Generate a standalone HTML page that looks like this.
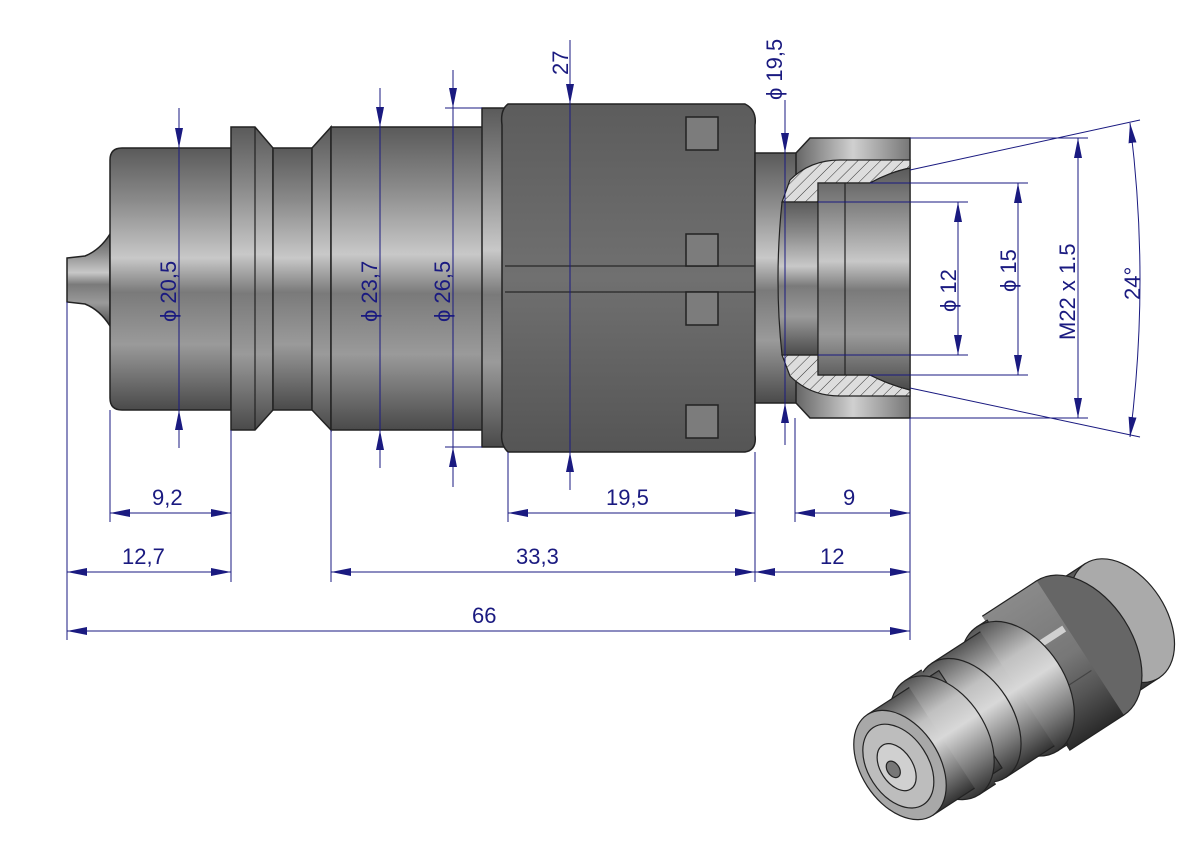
<!DOCTYPE html>
<html><head><meta charset="utf-8"><style>
html,body{margin:0;padding:0;background:#fff;}
svg{display:block}
text{font-family:"Liberation Sans",Arial,sans-serif;fill:#1a1a80;font-size:22px}
</style></head><body>
<svg width="1191" height="842" viewBox="0 0 1191 842" xmlns="http://www.w3.org/2000/svg">
<defs>
<linearGradient id="met" x1="0" y1="0" x2="0" y2="1">
<stop offset="0" stop-color="#5a5a5a"/><stop offset="0.2" stop-color="#8a8a8a"/><stop offset="0.42" stop-color="#c8c8c8"/><stop offset="0.55" stop-color="#7a7a7a"/><stop offset="0.75" stop-color="#9a9a9a"/><stop offset="1" stop-color="#4a4a4a"/>
</linearGradient>
<linearGradient id="met3" x1="0" y1="0" x2="0" y2="1">
<stop offset="0" stop-color="#555"/><stop offset="0.3" stop-color="#c0c0c0"/><stop offset="0.5" stop-color="#d8d8d8"/><stop offset="0.8" stop-color="#777"/><stop offset="1" stop-color="#333"/>
</linearGradient>
<linearGradient id="metH" x1="0" y1="0" x2="1" y2="0">
<stop offset="0" stop-color="#666"/><stop offset="0.5" stop-color="#d0d0d0"/><stop offset="1" stop-color="#777"/>
</linearGradient>
<linearGradient id="nut" x1="0" y1="0" x2="0" y2="1">
<stop offset="0" stop-color="#5c5c5c"/><stop offset="0.5" stop-color="#707070"/><stop offset="1" stop-color="#555"/>
</linearGradient>
<linearGradient id="nut3" x1="0" y1="0" x2="0" y2="1">
<stop offset="0" stop-color="#8a8a8a"/><stop offset="0.5" stop-color="#777"/><stop offset="0.75" stop-color="#555"/><stop offset="1" stop-color="#2a2a2a"/>
</linearGradient>
<pattern id="hatch" width="8" height="8" patternUnits="userSpaceOnUse" patternTransform="rotate(45)">
<rect width="8" height="8" fill="#ddd"/><line x1="0" y1="0" x2="0" y2="8" stroke="#333" stroke-width="1"/>
</pattern>
<marker id="a" viewBox="0 0 20 8" refX="20" refY="4" markerWidth="20" markerHeight="8" markerUnits="userSpaceOnUse" orient="auto-start-reverse">
<path d="M0,0 L20,4 L0,8 z" fill="#1a1a80"/></marker>
</defs>

<path d="M67,258 L85,256 Q100,250 110,234 L110,326 Q100,310 85,304 L67,302 z" fill="url(#met)" stroke="#222" stroke-width="1.5"/>
<path d="M122,148 L231,148 L231,410 L122,410 Q110,410 110,398 L110,160 Q110,148 122,148 z" fill="url(#met)" stroke="#222" stroke-width="1.5"/>
<path d="M231,127 L255,127 L273,148 L273,410 L255,430 L231,430 z" fill="url(#met)" stroke="#222" stroke-width="1.5"/>
<line x1="255" y1="127" x2="255" y2="430" stroke="#222" stroke-width="1.2"/>
<rect x="273" y="148" width="39" height="262" fill="url(#met)" stroke="#222" stroke-width="1.5"/>
<path d="M312,148 L331,127 L331,430 L312,410 z" fill="url(#met)" stroke="#222" stroke-width="1.5"/>
<rect x="331" y="127" width="152" height="303" fill="url(#met)" stroke="#222" stroke-width="1.5"/>
<rect x="482" y="108" width="26" height="339" fill="url(#met)" stroke="#222" stroke-width="1.5"/>
<path d="M508,104 L745,104 Q757,110 755,125 L755,435 Q757,450 745,452 L508,452 Q500,445 502,430 L502,125 Q500,110 508,104 z" fill="url(#nut)" stroke="#222" stroke-width="1.5"/>
<line x1="505" y1="266" x2="755" y2="266" stroke="#333" stroke-width="1.5"/>
<line x1="505" y1="292" x2="755" y2="292" stroke="#333" stroke-width="1.5"/>
<g fill="#7c7c7c" stroke="#222" stroke-width="1.5">
<rect x="686" y="117" width="32" height="33"/><rect x="686" y="234" width="32" height="32"/>
<rect x="686" y="292" width="32" height="33"/><rect x="686" y="405" width="32" height="33"/>
</g>
<rect x="755" y="153" width="42" height="250" fill="url(#met)" stroke="#222" stroke-width="1.5"/>
<path d="M810,138 L910,138 L910,418 L810,418 L796,403 L796,153 z" fill="url(#metH)" stroke="#222" stroke-width="1.5"/>
<path d="M840,160 Q810,160 790,180 L782,202 L818,202 L818,183 L870,183 Q890,172 910,168 L910,160 z" fill="url(#hatch)" stroke="#222" stroke-width="1.2"/>
<path d="M840,396 Q810,396 790,376 L782,355 L818,355 L818,375 L870,375 Q890,385 910,390 L910,396 z" fill="url(#hatch)" stroke="#222" stroke-width="1.2"/>
<path d="M782,202 L818,202 L818,355 L782,355 Q774,280 782,202 z" fill="url(#met)" stroke="#222" stroke-width="1.2"/>
<path d="M818,183 L870,183 Q890,172 910,168 L910,390 Q890,385 870,375 L818,375 z" fill="url(#met)" stroke="#222" stroke-width="1.2"/>
<line x1="845" y1="183" x2="845" y2="375" stroke="#222" stroke-width="1.2"/>

<g stroke="#1a1a80" stroke-width="1" fill="none">
<line x1="179" y1="108" x2="179" y2="148" marker-end="url(#a)"/><line x1="179" y1="148" x2="179" y2="410"/><line x1="179" y1="448" x2="179" y2="410" marker-end="url(#a)"/>
<line x1="380" y1="88" x2="380" y2="127" marker-end="url(#a)"/><line x1="380" y1="127" x2="380" y2="430"/><line x1="380" y1="468" x2="380" y2="430" marker-end="url(#a)"/>
<line x1="453" y1="70" x2="453" y2="108" marker-end="url(#a)"/><line x1="453" y1="108" x2="453" y2="447"/><line x1="453" y1="487" x2="453" y2="447" marker-end="url(#a)"/>
<line x1="445" y1="108" x2="482" y2="108"/><line x1="445" y1="447" x2="482" y2="447"/>
<line x1="570" y1="40" x2="570" y2="104" marker-end="url(#a)"/><line x1="570" y1="104" x2="570" y2="452"/><line x1="570" y1="490" x2="570" y2="452" marker-end="url(#a)"/>
<line x1="785" y1="100" x2="785" y2="153" marker-end="url(#a)"/><line x1="785" y1="153" x2="785" y2="403"/><line x1="785" y1="445" x2="785" y2="403" marker-end="url(#a)"/>
<line x1="958" y1="202" x2="958" y2="355" marker-start="url(#a)" marker-end="url(#a)"/>
<line x1="818" y1="202" x2="968" y2="202"/><line x1="818" y1="355" x2="968" y2="355"/>
<line x1="1018" y1="183" x2="1018" y2="375" marker-start="url(#a)" marker-end="url(#a)"/>
<line x1="870" y1="183" x2="1028" y2="183"/><line x1="870" y1="375" x2="1028" y2="375"/>
<line x1="1078" y1="138" x2="1078" y2="418" marker-start="url(#a)" marker-end="url(#a)"/>
<line x1="910" y1="138" x2="1088" y2="138"/><line x1="910" y1="418" x2="1088" y2="418"/>
<line x1="910" y1="170" x2="1140" y2="120"/><line x1="910" y1="388" x2="1140" y2="437"/>
<path d="M1130,123 Q1150,280 1130,437" marker-start="url(#a)" marker-end="url(#a)"/>
<line x1="67" y1="302" x2="67" y2="640"/><line x1="110" y1="410" x2="110" y2="522"/>
<line x1="231" y1="430" x2="231" y2="582"/><line x1="331" y1="430" x2="331" y2="582"/>
<line x1="508" y1="452" x2="508" y2="522"/><line x1="755" y1="452" x2="755" y2="582"/>
<line x1="795" y1="418" x2="795" y2="522"/><line x1="910" y1="418" x2="910" y2="640"/>
<line x1="110" y1="513" x2="231" y2="513" marker-start="url(#a)" marker-end="url(#a)"/>
<line x1="508" y1="513" x2="755" y2="513" marker-start="url(#a)" marker-end="url(#a)"/>
<line x1="795" y1="513" x2="910" y2="513" marker-start="url(#a)" marker-end="url(#a)"/>
<line x1="67" y1="572" x2="231" y2="572" marker-start="url(#a)" marker-end="url(#a)"/>
<line x1="331" y1="572" x2="755" y2="572" marker-start="url(#a)" marker-end="url(#a)"/>
<line x1="755" y1="572" x2="910" y2="572" marker-start="url(#a)" marker-end="url(#a)"/>
<line x1="67" y1="631" x2="910" y2="631" marker-start="url(#a)" marker-end="url(#a)"/>
</g>
<text x="152" y="505">9,2</text>
<text x="606" y="505">19,5</text>
<text x="843" y="505">9</text>
<text x="122" y="564">12,7</text>
<text x="516" y="564">33,3</text>
<text x="820" y="564">12</text>
<text x="472" y="623">66</text>
<text transform="translate(176,322) rotate(-90)">ϕ 20,5</text>
<text transform="translate(377,322) rotate(-90)">ϕ 23,7</text>
<text transform="translate(450,322) rotate(-90)">ϕ 26,5</text>
<text transform="translate(568,75) rotate(-90)">27</text>
<text transform="translate(782,100) rotate(-90)">ϕ 19,5</text>
<text transform="translate(956,312) rotate(-90)">ϕ 12</text>
<text transform="translate(1016,292) rotate(-90)">ϕ 15</text>
<text transform="translate(1075,340) rotate(-90)">M22 x 1.5</text>
<text transform="translate(1140,300) rotate(-90)">24°</text>

<!-- 3D view -->
<g transform="translate(900,765) rotate(-33)" stroke="#222" stroke-width="1.2">
<!-- thread -->
<rect x="222" y="-68" width="43" height="136" fill="url(#met3)"/>
<ellipse cx="265" cy="0" rx="44" ry="68" fill="#aaa"/>
<ellipse cx="222" cy="0" rx="44" ry="68" fill="#c4c4c4"/>
<!-- neck -->
<rect x="212" y="-62" width="12" height="124" fill="url(#met3)"/>
<!-- hex -->
<ellipse cx="215" cy="0" rx="52" ry="80" fill="#666"/>
<rect x="150" y="-80" width="65" height="160" fill="url(#nut3)" stroke="none"/>
<line x1="150" y1="-80" x2="215" y2="-80"/><line x1="150" y1="80" x2="215" y2="80"/>
<line x1="150" y1="-25" x2="212" y2="-25" stroke="#d0d0d0" stroke-width="7"/>
<line x1="150" y1="25" x2="212" y2="25" stroke="#444"/>
<!-- flange -->
<rect x="140" y="-74" width="12" height="148" fill="url(#met3)"/>
<ellipse cx="140" cy="0" rx="48" ry="74" fill="url(#met3)"/>
<!-- body2 -->
<rect x="82" y="-68" width="58" height="136" fill="url(#met3)" stroke="none"/>
<line x1="82" y1="-68" x2="140" y2="-68"/><line x1="82" y1="68" x2="140" y2="68"/>
<ellipse cx="82" cy="0" rx="44" ry="68" fill="url(#met3)"/>
<!-- groove -->
<rect x="70" y="-58" width="14" height="116" fill="url(#met3)"/>
<!-- collar -->
<rect x="50" y="-68" width="20" height="136" fill="url(#met3)" stroke="none"/>
<line x1="50" y1="-68" x2="70" y2="-68"/><line x1="50" y1="68" x2="70" y2="68"/>
<ellipse cx="50" cy="0" rx="44" ry="68" fill="url(#met3)"/>
<!-- body1 -->
<rect x="0" y="-60" width="50" height="120" fill="url(#met3)" stroke="none"/>
<line x1="0" y1="-60" x2="50" y2="-60"/><line x1="0" y1="60" x2="50" y2="60"/>
<ellipse cx="0" cy="0" rx="39" ry="60" fill="#a8a8a8"/>
<ellipse cx="-2" cy="0" rx="30" ry="46" fill="#bdbdbd"/>
<ellipse cx="-4" cy="0" rx="16" ry="26" fill="#d0d0d0"/>
<ellipse cx="-8" cy="0" rx="6" ry="9" fill="#777"/>
</g>
</svg>
</body></html>
